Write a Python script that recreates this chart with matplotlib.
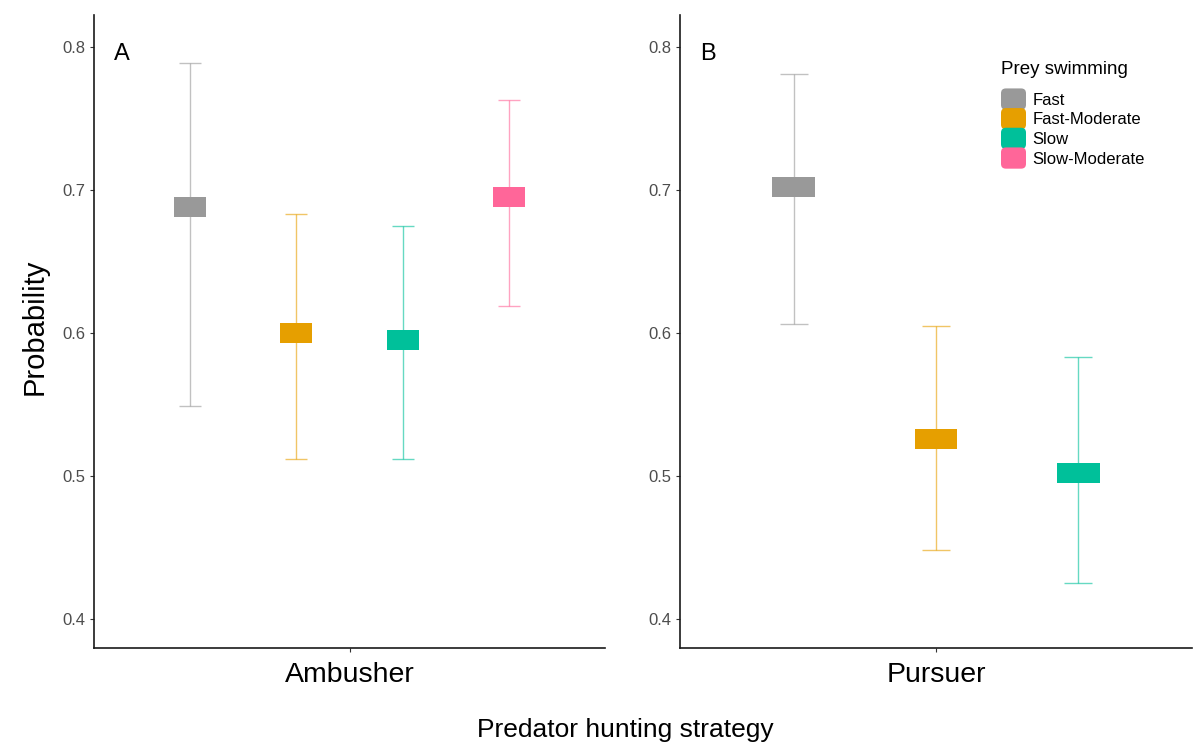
import numpy as np
import matplotlib.pyplot as plt
from matplotlib.patches import Patch, FancyBboxPatch
from matplotlib.legend_handler import HandlerPatch

plt.rcParams['font.family'] = ['Liberation Sans', 'DejaVu Sans']

# predicted probability of capture, with lower / upper interval
groups = ['Fast', 'Fast-Moderate', 'Slow', 'Slow-Moderate']
colors = ['#999999', '#E69F00', '#00C09A', '#FF6699']

amb_groups = ['Fast', 'Fast-Moderate', 'Slow', 'Slow-Moderate']
amb_fit = [0.688, 0.600, 0.595, 0.695]
amb_low = [0.549, 0.512, 0.512, 0.619]
amb_high = [0.789, 0.683, 0.675, 0.763]

pur_groups = ['Fast', 'Fast-Moderate', 'Slow']
pur_fit = [0.702, 0.526, 0.502]
pur_low = [0.606, 0.448, 0.425]
pur_high = [0.781, 0.605, 0.583]

panels = [('A', 'Ambusher', amb_groups, amb_fit, amb_low, amb_high),
          ('B', 'Pursuer', pur_groups, pur_fit, pur_low, pur_high)]

W, H = 1197, 744
fig = plt.figure(figsize=(W / 100, H / 100), dpi=100)
boxes = [(94, 511), (680, 512)]

for (tag, strategy, grp, fit, low, high), (left, width) in zip(panels, boxes):
    ax = fig.add_axes([left / W, 96 / H, width / W, 633 / H])
    n = len(grp)
    xs = (np.arange(n) - (n - 1) / 2) / n
    box_w = 0.3 / n
    box_h = 0.014
    cap = 0.1 / n * (width / 1.2) * 0.72  # half cap width in points
    for x, g, f, lo, hi in zip(xs, grp, fit, low, high):
        c = colors[groups.index(g)]
        ax.errorbar([x], [f], yerr=[[f - lo], [hi - f]], fmt='none', ecolor=c,
                    elinewidth=1.0, capsize=cap, capthick=1.0, alpha=0.6, zorder=2)
        ax.bar([x], [box_h], bottom=[f - box_h / 2], width=box_w, color=c,
               edgecolor='none', zorder=3)
    ax.set_xlim(-0.6, 0.6)
    ax.set_ylim(0.3797, 0.8224)
    ax.set_yticks([0.4, 0.5, 0.6, 0.7, 0.8])
    ax.set_yticklabels(['0.4', '0.5', '0.6', '0.7', '0.8'])
    ax.set_xticks([0])
    ax.set_xticklabels([strategy])
    ax.tick_params(axis='y', labelsize=12, labelcolor='#4D4D4D', color='#333333',
                   length=3, width=0.8, pad=3)
    ax.tick_params(axis='x', labelsize=20.5, labelcolor='black', color='#333333',
                   length=3, width=0.8, pad=7)
    for s in ['top', 'right']:
        ax.spines[s].set_visible(False)
    for s in ['left', 'bottom']:
        ax.spines[s].set_linewidth(1.2)
        ax.spines[s].set_color('#1a1a1a')
    ax.text(0.04, 0.955, tag, transform=ax.transAxes, fontsize=17, va='top', ha='left')

fig.text(625 / W, 1 - 730 / H, 'Predator hunting strategy', fontsize=19,
         ha='center', va='center')
fig.text(35 / W, 1 - 327 / H, 'Probability', fontsize=21, rotation=90,
         ha='center', va='center')


class RoundKey(HandlerPatch):
    def create_artists(self, legend, orig_handle, xdescent, ydescent,
                       width, height, fontsize, trans):
        p = FancyBboxPatch((-xdescent, -ydescent - 1.5), width, height + 3,
                           boxstyle='round,pad=0,rounding_size=3.5',
                           facecolor=orig_handle.get_facecolor(),
                           edgecolor='none', transform=trans)
        return [p]


handles = [Patch(facecolor=c, label=g) for g, c in zip(groups, colors)]
leg = fig.legend(handles=handles, loc='upper left', bbox_to_anchor=(1001 / W, 1 - 61 / H),
                 frameon=False, fontsize=12, title='Prey swimming', title_fontsize=13.5,
                 handlelength=1.5, handleheight=1.2, labelspacing=0.15,
                 handletextpad=0.4, borderpad=0, borderaxespad=0,
                 handler_map={Patch: RoundKey()})
leg._legend_box.align = 'left'
leg._legend_box.sep = 9

fig.savefig('out.png', dpi=100, facecolor='white')
